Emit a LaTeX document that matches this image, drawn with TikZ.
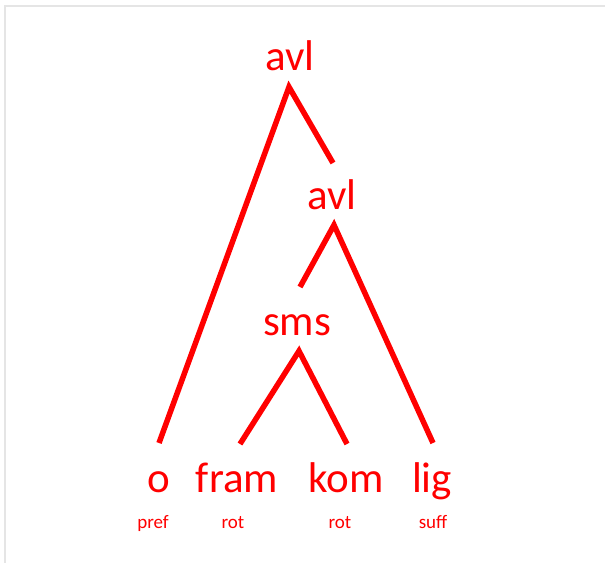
\documentclass[tikz,border=0pt]{standalone}
\usepackage{fontspec}
\setmainfont{Carlito}
\usetikzlibrary{positioning}
\tikzset{word/.style = {text = red, inner sep = 0, anchor = base, font = \fontsize{43}{50}\selectfont}}
\tikzset{tag/.style = {text = red, inner sep = 0, anchor = base, font = \fontsize{19}{22}\selectfont}}
\tikzset{branch/.style = {red, line width = 5.5pt}}

\begin{document}
\begin{tikzpicture}[x=1pt, y=-1pt]
          \useasboundingbox (0, 0) rectangle (605, 563);
          \fill [white] (0, 0) rectangle (605, 563);
          \draw [gray!20, line width = 2pt] (5, 563) -- (5, 6) -- (605, 6);

          \node [word] (avl1) at (290, 70) {avl};
          \node [word] (avl2) at (332, 209) {avl};
          \node [word] (sms) at (297, 335) {sms};
          \node [word] (o) at (159, 492) {o};
          \node [word] (fram) at (237, 492) {fram};
          \node [word] (kom) at (346, 492) {kom};
          \node [word] (lig) at (432, 492) {lig};

          \node [tag] (pref) at (153, 528) {pref};
          \node [tag] (rot1) at (233, 528) {rot};
          \node [tag] (rot2) at (340, 528) {rot};
          \node [tag] (suff) at (433, 528) {suff};

          \coordinate (tip1) at (289, 87);
          \coordinate (tip2) at (334, 225);
          \coordinate (tip3) at (299, 351);
          \coordinate (end1) at (159, 443);
          \coordinate (end2) at (333, 163);
          \coordinate (end3) at (300, 287);
          \coordinate (end4) at (433, 443);
          \coordinate (end5) at (240, 444);
          \coordinate (end6) at (347, 444);

          \draw [branch] (end1) -- (tip1) -- (end2);
          \draw [branch] (end3) -- (tip2) -- (end4);
          \draw [branch] (end5) -- (tip3) -- (end6);
        \end{tikzpicture}
\end{document}
